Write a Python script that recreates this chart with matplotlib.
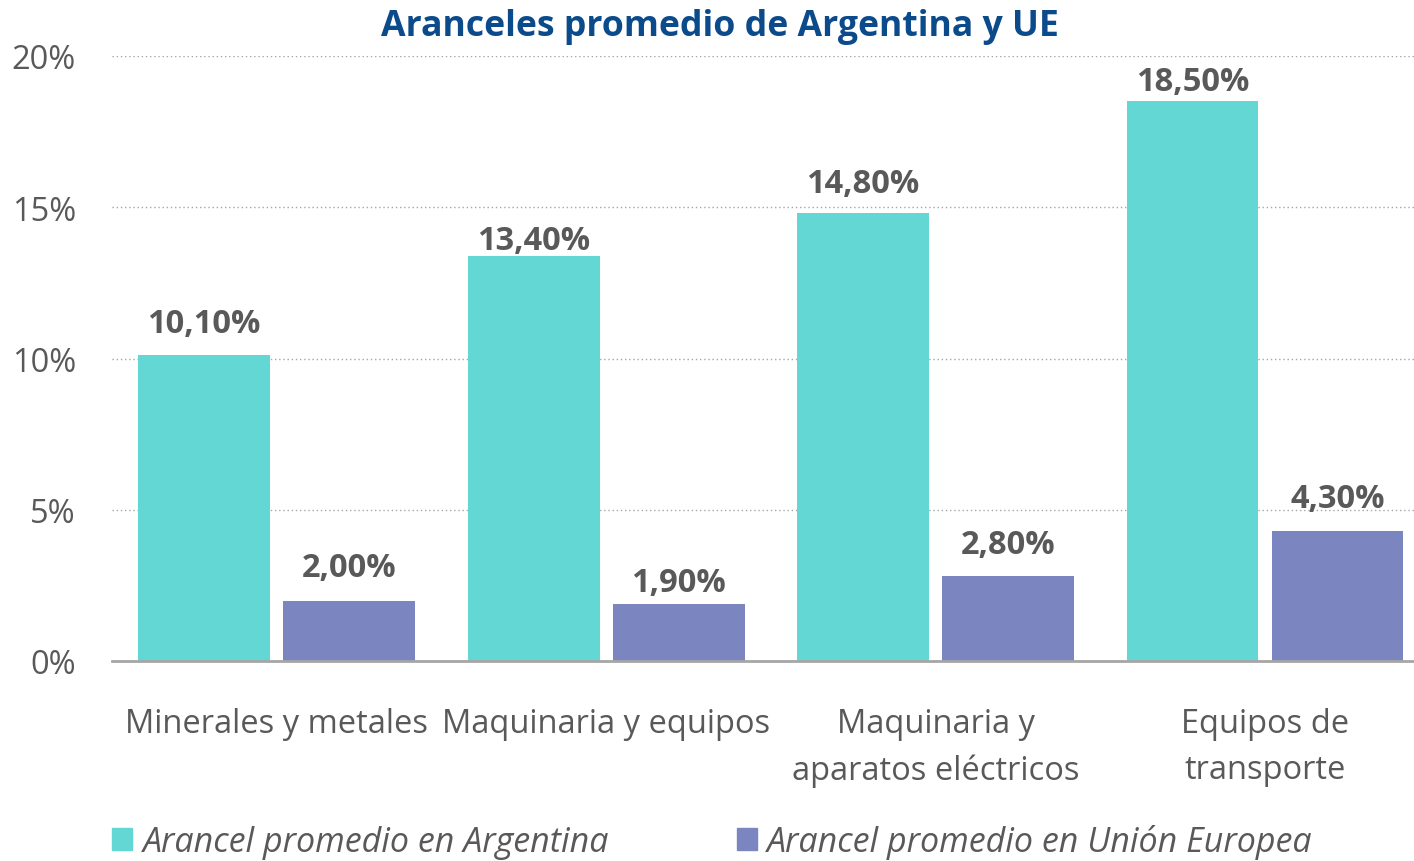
import matplotlib
matplotlib.use("Agg")
import matplotlib.pyplot as plt
from matplotlib.patches import Patch
import numpy as np

categories = ["Minerales y metales", "Maquinaria y equipos", "Maquinaria y\naparatos eléctricos", "Equipos de\ntransporte"]
argentina = [10.1, 13.4, 14.8, 18.5]
ue = [2.0, 1.9, 2.8, 4.3]
series_names = ["Arancel promedio en Argentina", "Arancel promedio en Unión Europea"]
yticks = [0, 5, 10, 15, 20]

# label placement offsets (points above bar top), as placed in the original
arg_label_offsets = [11.5, -0.7, 9.4, 2.2]
ue_label_offsets = [12.2, 3.6, 10.8, 11.5]

c_arg = "#63d7d3"
c_ue = "#7b86c0"
gray = "#595959"
font = "Open Sans"

fig = plt.figure(figsize=(14.14, 8.62), dpi=100)
ax = fig.add_axes([112/1414, 1-662/862, 1-112/1414, (662-57)/862])

x = np.arange(len(categories))
w = 0.40
off = 0.22
b1 = ax.bar(x - off, argentina, w, color=c_arg, zorder=3)
b2 = ax.bar(x + off, ue, w, color=c_ue, zorder=3)

for bars, vals, offs in ((b1, argentina, arg_label_offsets), (b2, ue, ue_label_offsets)):
    for b, v, o in zip(bars, vals, offs):
        ax.annotate(f"{v:.2f}%".replace(".", ","), (b.get_x() + b.get_width()/2, v),
                    xytext=(0, o), textcoords="offset points", ha="center", va="bottom",
                    fontsize=23.5, fontweight="bold", color=gray, family=font, zorder=5)

ax.set_xlim(-0.5, 3.452)
ax.set_ylim(0, 20)
ax.set_yticks(yticks)
ax.set_yticklabels([f"{t}%" for t in yticks], fontsize=23.5, color=gray, family=font)
ax.set_xticks(x)
ax.set_xticklabels(categories, fontsize=23.5, color=gray, family=font, linespacing=1.52)
ax.tick_params(axis="both", length=0)
ax.tick_params(axis="y", pad=26)
ax.tick_params(axis="x", pad=33)
ax.yaxis.grid(True, linestyle=(0, (1, 2)), color="#a6a6a6", linewidth=1, zorder=0)
for s in ["top", "right", "left"]:
    ax.spines[s].set_visible(False)
ax.spines["bottom"].set_color("#a6a6a6")
ax.spines["bottom"].set_linewidth(2)
ax.spines["bottom"].set_zorder(4)

fig.text(0.509, 0.969, "Aranceles promedio de Argentina y UE", ha="center", va="center",
         fontsize=25.7, fontweight="bold", color="#0b4a8b", family=font)

handles = [Patch(color=c_arg), Patch(color=c_ue)]
leg = fig.legend(handles, series_names, loc="center left", bbox_to_anchor=(0.0575, 0.0225),
                 ncol=2, frameon=False, prop={"family": font, "style": "italic", "size": 24.5},
                 handlelength=0.6, handleheight=0.6, handletextpad=0.3, columnspacing=3.75)
for t in leg.get_texts():
    t.set_color(gray)

fig.savefig("out.png", dpi=100)
